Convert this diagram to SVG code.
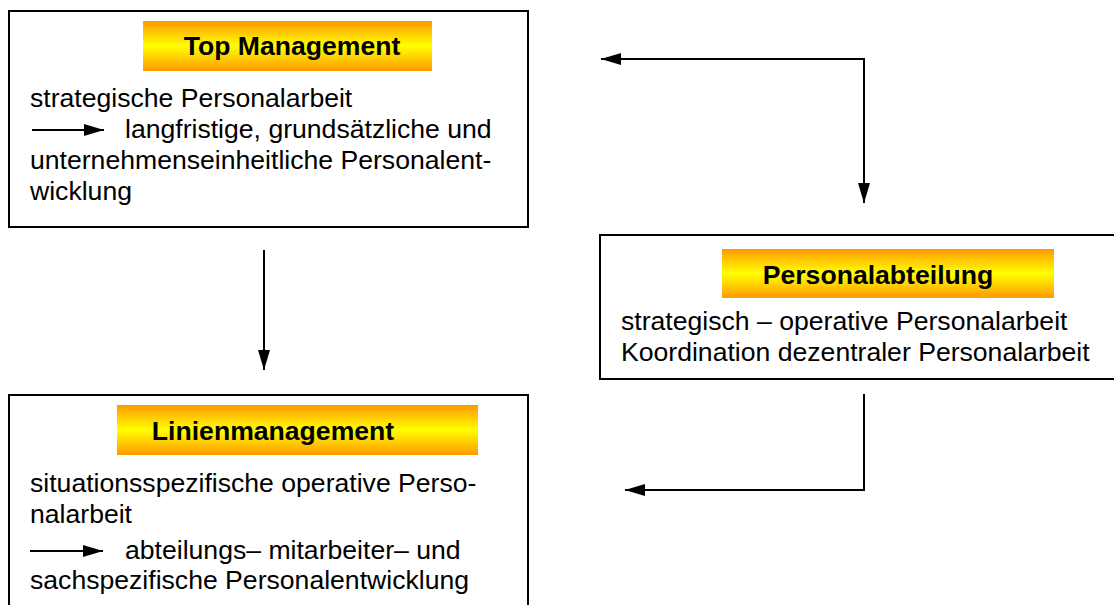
<svg xmlns="http://www.w3.org/2000/svg" width="1114" height="605" viewBox="0 0 1114 605">
<style>
.box{fill:#fff;stroke:#000;stroke-width:2}
.bar{fill:url(#og)}
.t{font-family:"Liberation Sans",Arial,sans-serif;font-size:26.6px;fill:#000}
.h{font-family:"Liberation Sans",Arial,sans-serif;font-size:26.6px;font-weight:bold;fill:#000;text-anchor:middle}
.ln{fill:none;stroke:#000;stroke-width:2}
</style>
<defs>
<linearGradient id="og" x1="0" y1="0" x2="0" y2="1">
<stop offset="0" stop-color="#FF9900"/>
<stop offset="0.5" stop-color="#FFFF00"/>
<stop offset="1" stop-color="#FF9900"/>
</linearGradient>
<marker id="ah" viewBox="0 0 20 12" refX="20" refY="6" markerWidth="20" markerHeight="12" markerUnits="userSpaceOnUse" orient="auto">
<path d="M0,0 L20,6 L0,12 Z" fill="#000"/>
</marker>
<marker id="as" viewBox="0 0 20 12" refX="0" refY="6" markerWidth="20" markerHeight="12" markerUnits="userSpaceOnUse" orient="auto">
<path d="M20,0 L0,6 L20,12 Z" fill="#000"/>
</marker>
</defs>
<rect width="1114" height="605" fill="#fff"/>
<g id="top-management">
<rect class="box" x="9" y="11" width="519" height="216"/>
<rect class="bar" x="143" y="21" width="289" height="50"/>
<text class="h" x="292" y="55">Top Management</text>
<text class="t" x="30" y="107">strategische Personalarbeit</text>
<line class="ln" x1="32" y1="130" x2="104" y2="130" marker-end="url(#ah)"/>
<text class="t" x="125" y="138">langfristige, grundsätzliche und</text>
<text class="t" x="30" y="169">unternehmenseinheitliche Personalent-</text>
<text class="t" x="30" y="200">wicklung</text>
</g>
<g id="personalabteilung">
<rect class="box" x="600" y="235" width="530" height="144"/>
<rect class="bar" x="722" y="249" width="332" height="49"/>
<text class="h" x="878" y="284">Personalabteilung</text>
<text class="t" x="621" y="330">strategisch – operative Personalarbeit</text>
<text class="t" x="621" y="361">Koordination dezentraler Personalarbeit</text>
</g>
<g id="linienmanagement">
<rect class="box" x="9" y="395" width="519" height="230"/>
<rect class="bar" x="117" y="405" width="361" height="50"/>
<text class="h" x="273" y="440">Linienmanagement</text>
<text class="t" x="30" y="492">situationsspezifische operative Perso-</text>
<text class="t" x="30" y="523">nalarbeit</text>
<line class="ln" x1="30" y1="551" x2="103" y2="551" marker-end="url(#ah)"/>
<text class="t" x="125" y="559">abteilungs– mitarbeiter– und</text>
<text class="t" x="30" y="589">sachspezifische Personalentwicklung</text>
</g>
<g id="connectors">
<polyline class="ln" points="601,59 864,59 864,203" marker-start="url(#as)" marker-end="url(#ah)"/>
<line class="ln" x1="264" y1="250" x2="264" y2="370" marker-end="url(#ah)"/>
<polyline class="ln" points="864,394 864,490 625,490" marker-end="url(#ah)"/>
</g>
</svg>
